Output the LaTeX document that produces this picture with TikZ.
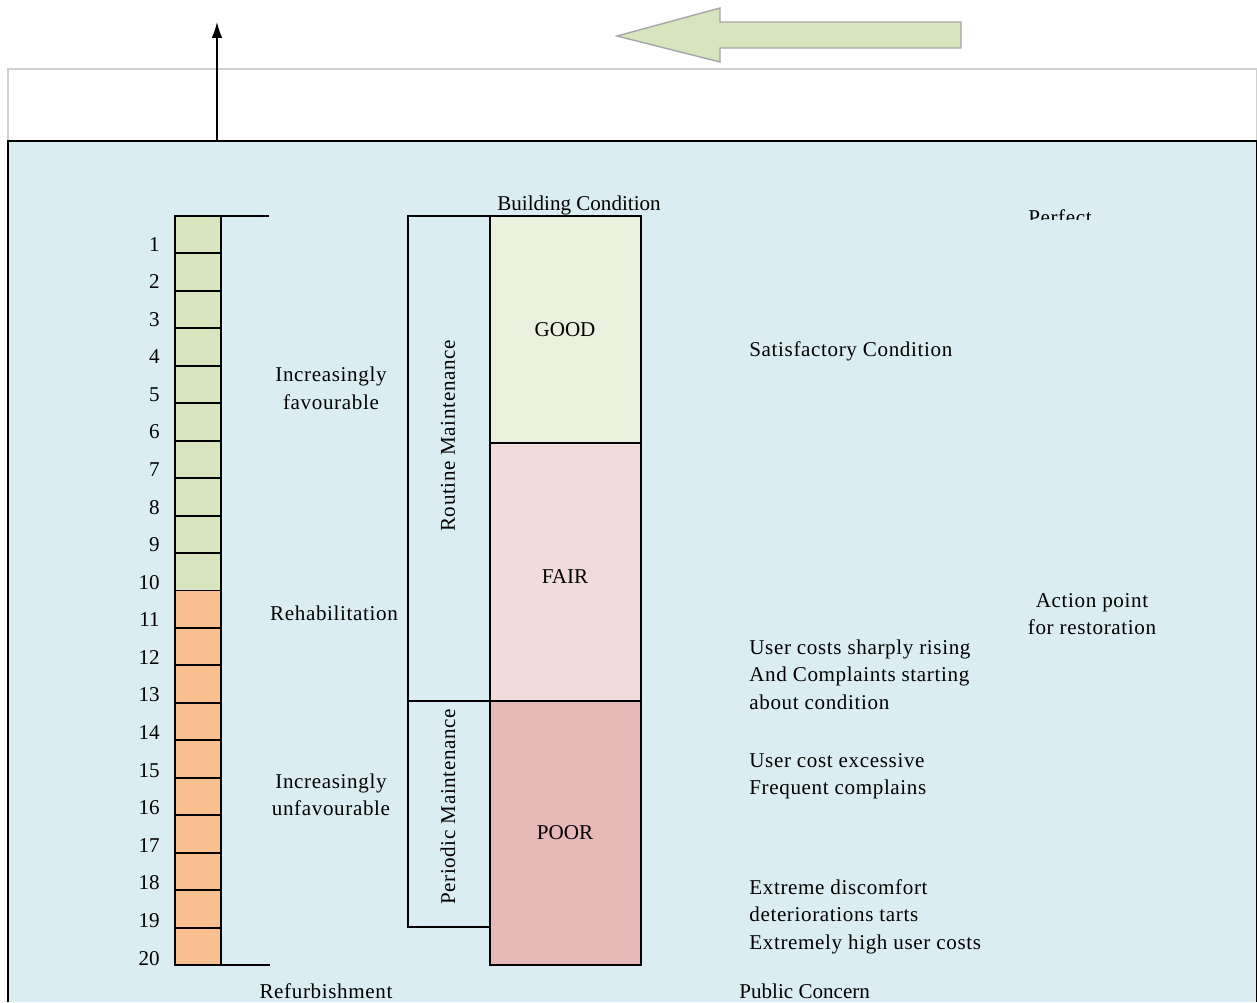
\documentclass[tikz,border=0pt]{standalone}
\usepackage{fontspec}
\setmainfont{Liberation Serif}
\newfontfamily\spacedserif[LetterSpace=3]{Liberation Serif}
\usetikzlibrary{arrows.meta}
\definecolor{skyfill}{HTML}{DAEDF3}
\definecolor{greencell}{HTML}{D7E4BD}
\definecolor{orangecell}{HTML}{F9BF8F}
\definecolor{goodfill}{HTML}{EBF1DE}
\definecolor{fairfill}{HTML}{F2DCDB}
\definecolor{poorfill}{HTML}{E6B9B8}
\definecolor{frame}{HTML}{D0D0D0}
\tikzset{
  txt/.style={inner sep=0pt, font=\fontsize{12}{15}\selectfont},
  wide/.style={inner sep=0pt, font=\fontsize{12}{15}\selectfont\spacedserif},
  cellline/.style={draw=black, line width=1.1pt},
  heavy/.style={draw=black, line width=1.5pt},
  thin/.style={draw=black, line width=1pt}
}
\begin{document}
\begin{tikzpicture}[x=0.02cm, y=-0.02cm]
		\useasboundingbox (0,0) rectangle (1257,1002);
		% frames
		\draw [frame, line width=1.2pt] (8,141) -- (8,69) -- (1257,69) -- (1257,141);
		\fill [skyfill] (8,141) rectangle (1257,1002);
		\draw [black, line width=1.1pt] (8,1002) -- (8,141) -- (1257,141) -- (1257,1002);
		% arrows at the top
		\coordinate (up0) at (217,141); \coordinate (up1) at (217,22);
		\draw [black, line width=0.8pt, -{Latex[length=9pt,width=6pt]}] (up0) -- (up1);
		\filldraw [fill=greencell, draw=gray!70, line width=0.8pt] (617,36) -- (720,8) -- (720,22) -- (961,22) -- (961,48) -- (720,48) -- (720,62) -- cycle;
		% scale of 20 cells
		\foreach \i in {1,...,20}{
			\pgfmathsetmacro{\ytop}{216+(\i-1)*37.45}
			\pgfmathsetmacro{\ybase}{251+(\i-1)*37.58}
			\ifnum\i<11 \def\c{greencell}\else\def\c{orangecell}\fi
			\filldraw [fill=\c, cellline] (175,\ytop) rectangle (221,\ytop+37.45);
			\node [txt, anchor=base east] at (160,\ybase) (n\i) {\i};
			}
		\draw [heavy] (175,216) rectangle (221,965);
		\draw [heavy] (221,216) -- (269,216);
		\draw [heavy] (221,965) -- (270,965);
		\node [wide, anchor=base] at (331,381) (fav1) {Increasingly};
		\node [wide, anchor=base] at (331,409) (fav2) {favourable};
		\node [wide, anchor=base] at (334,620) (rehab) {Rehabilitation};
		\node [wide, anchor=base] at (331,788) (unfav1) {Increasingly};
		\node [wide, anchor=base] at (331,815) (unfav2) {unfavourable};
		\node [wide, anchor=base] at (326,998) (refurb) {Refurbishment};
		% maintenance boxes
		\draw [thin] (408,216) rectangle (490,701);
		\draw [thin] (408,701) rectangle (490,927);
		\node [wide, rotate=90] at (448,436) (routine) {Routine Maintenance};
		\node [wide, rotate=90] at (448,807) (periodic) {Periodic Maintenance};
		% condition column
		\fill [goodfill] (490,216) rectangle (641,443);
		\fill [fairfill] (490,443) rectangle (641,701);
		\fill [poorfill] (490,701) rectangle (641,965);
		\draw [heavy] (490,216) rectangle (641,965);
		\draw [heavy] (490,443) -- (641,443);
		\draw [heavy] (490,701) -- (641,701);
		\foreach \y/\l in {336/GOOD, 583/FAIR, 839/POOR}
			\node [txt, anchor=base] at (565,\y) (\l) {\l};
		\node [txt, anchor=base] at (579,210) (bcond) {Building Condition};
		\begin{scope}
			\clip (980,190) rectangle (1140,219);
			\node [wide, anchor=base] at (1060,224) (perfect) {Perfect};
		\end{scope}
		% right-hand notes
		\foreach \y/\t [count=\k] in {356/Satisfactory Condition, 654/User costs sharply rising, 681/And Complaints starting, 709/about condition, 767/User cost excessive, 794/Frequent complains, 894/Extreme discomfort, 921/deteriorations tarts, 949/Extremely high user costs}
			\node [wide, anchor=base west] at (749,\y) (note\k) {\t};
		\node [wide, anchor=base] at (1092,607) (act1) {Action point};
		\node [wide, anchor=base] at (1092,634) (act2) {for restoration};
		\node [txt, anchor=base west] at (739,998) (public) {Public Concern};
	\end{tikzpicture}
\end{document}
